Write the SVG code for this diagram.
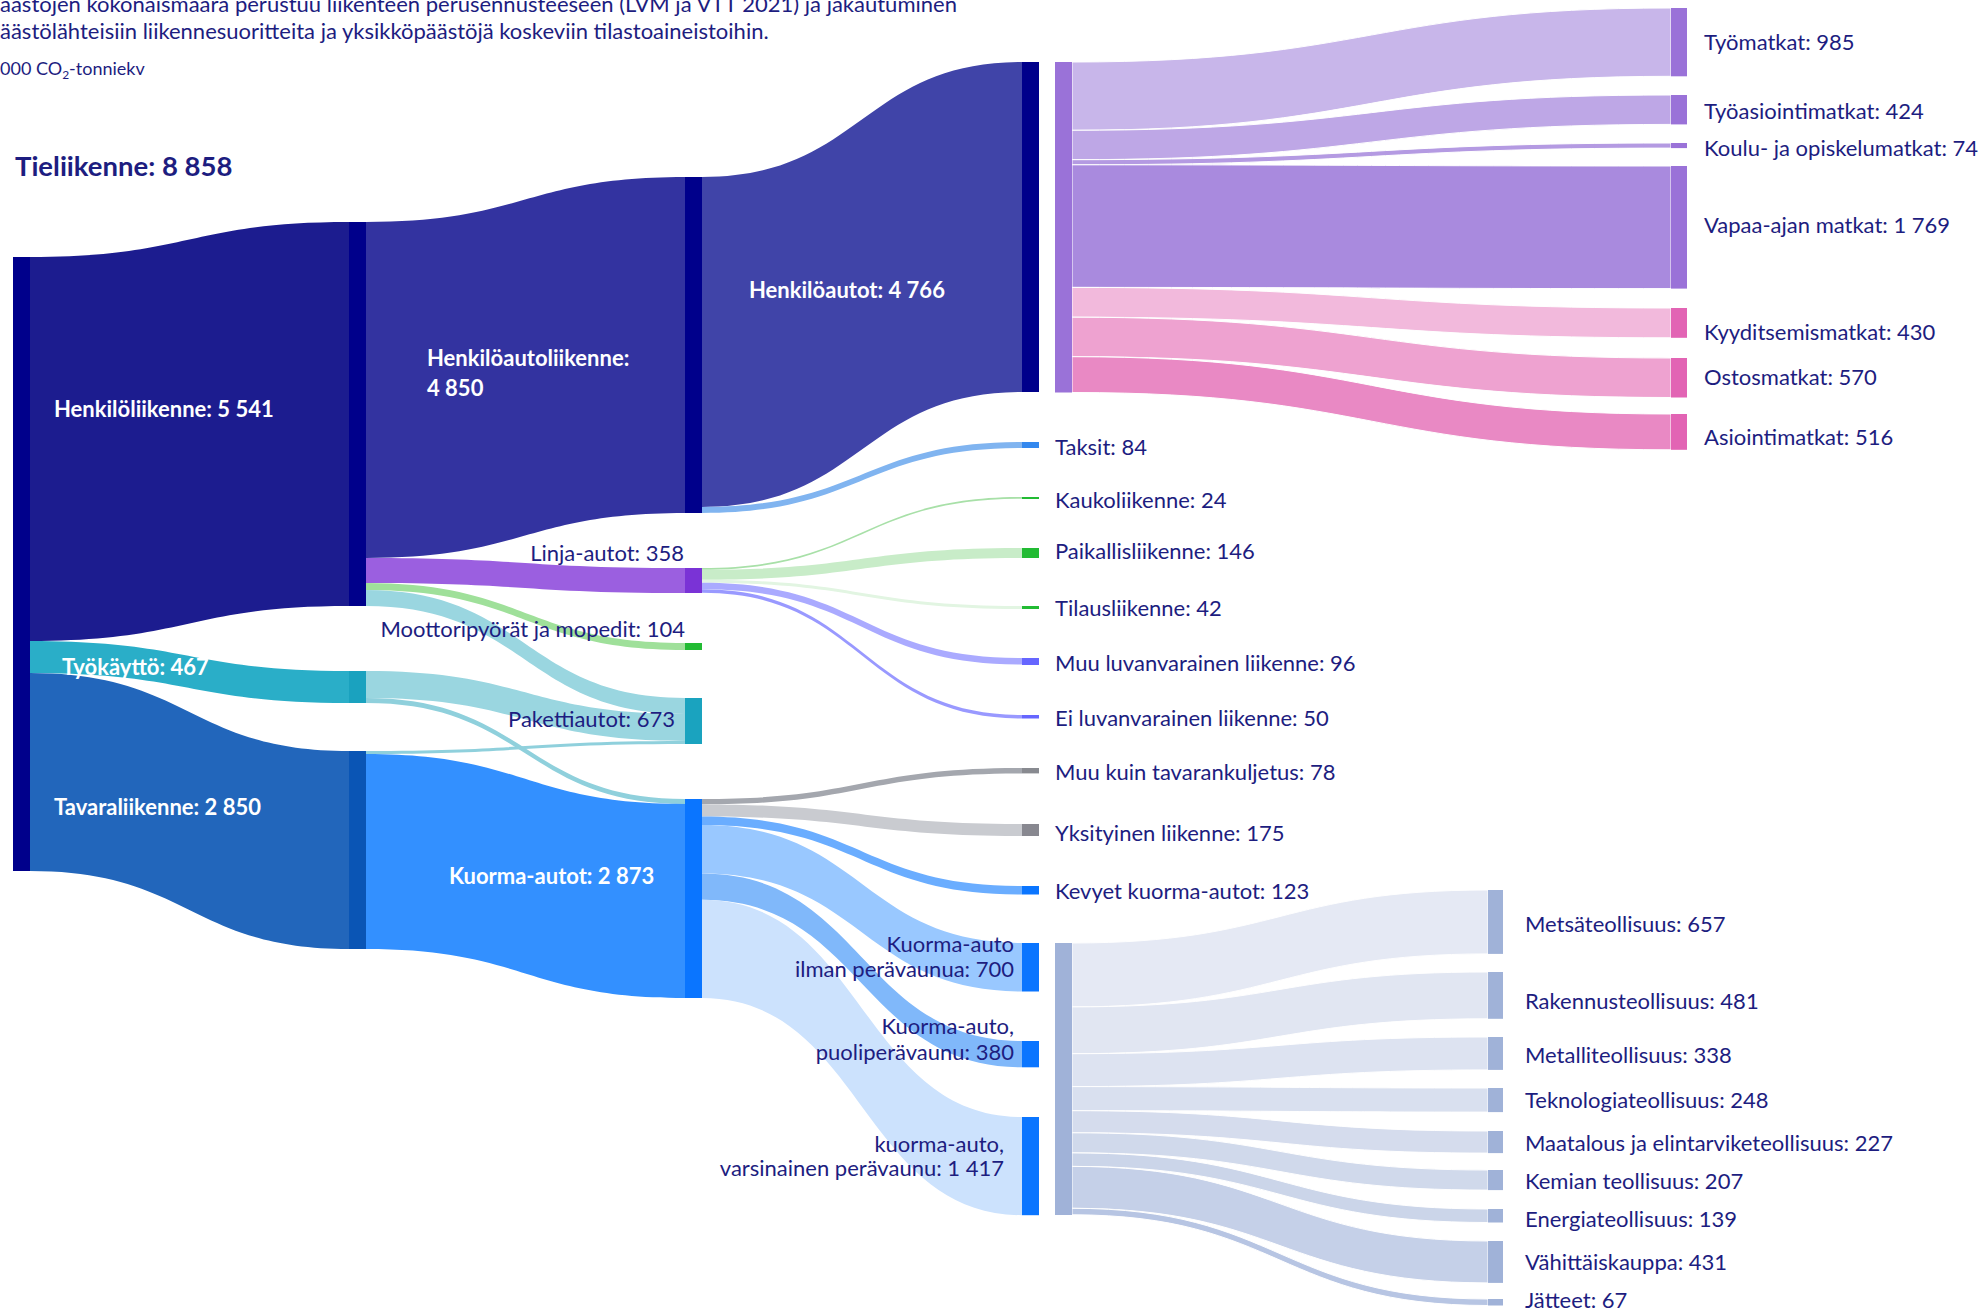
<svg xmlns="http://www.w3.org/2000/svg" width="1985" height="1311" viewBox="0 0 1985 1311">
<style>
text{font-family:Lato,"Open Sans","Liberation Sans",sans-serif;dominant-baseline:central}
.t{font-size:22px;fill:#1d1d80}
.w{font-size:22px;fill:#fff;font-weight:bold}
.e{text-anchor:end}
.ti{font-size:22px;fill:#1d1d80;dominant-baseline:auto}
.sep{stroke:#fff;stroke-width:1}
</style>
<rect width="1985" height="1311" fill="#fff"/>
<g id="title">
<text class="ti" x="0" y="12">äästöjen kokonaismäärä perustuu liikenteen perusennusteeseen (LVM ja VTT 2021) ja jakautuminen</text>
<text class="ti" x="0" y="39">äästölähteisiin liikennesuoritteita ja yksikköpäästöjä koskeviin tilastoaineistoihin.</text>
<text class="ti" x="0" y="75" style="font-size:18px">000 CO<tspan font-size="12" dy="4">2</tspan><tspan dy="-4">-tonniekv</tspan></text>
</g>
<g id="links">
<path fill="#1c1c8f" d="M30 257C189.5 257 189.5 222 349 222L349 606C189.5 606 189.5 641 30 641Z"/>
<path fill="#2aaec8" d="M30 641C189.5 641 189.5 671 349 671L349 703C189.5 703 189.5 673 30 673Z"/>
<path fill="#2266bb" d="M30 673C189.5 673 189.5 751 349 751L349 949C189.5 949 189.5 871 30 871Z"/>
<path fill="#3333a0" d="M366 222C525.5 222 525.5 177 685 177L685 513C525.5 513 525.5 558 366 558Z"/>
<path fill="#9b5fe0" d="M366 558C525.5 558 525.5 568 685 568L685 593C525.5 593 525.5 583 366 583Z"/>
<path fill="#9fe09a" d="M366 583C525.5 583 525.5 643 685 643L685 650C525.5 650 525.5 590 366 590Z"/>
<path fill="#9ad6e0" d="M366 590C525.5 590 525.5 698 685 698L685 714C525.5 714 525.5 606 366 606Z"/>
<path fill="#9ad6e0" d="M366 671C525.5 671 525.5 714 685 714L685 741C525.5 741 525.5 698 366 698Z"/>
<path fill="#8fd0dc" d="M366 698C525.5 698 525.5 799 685 799L685 804C525.5 804 525.5 703 366 703Z"/>
<path fill="#8fd0dc" d="M366 751C525.5 751 525.5 741 685 741L685 744C525.5 744 525.5 754 366 754Z"/>
<path fill="#3390ff" d="M366 754C525.5 754 525.5 804 685 804L685 998C525.5 998 525.5 949 366 949Z"/>
<path fill="#4044a8" d="M702 177C862 177 862 62 1022 62L1022 392C862 392 862 507 702 507Z"/>
<path fill="#80b4f0" d="M702 507C862 507 862 442 1022 442L1022 448C862 448 862 513 702 513Z"/>
<path fill="#a8e0a8" d="M702 568C862 568 862 497 1022 497L1022 498.7C862 498.7 862 569.7 702 569.7Z"/>
<path fill="#c8ecc8" d="M702 569.7C862 569.7 862 548 1022 548L1022 558.1C862 558.1 862 579.8 702 579.8Z"/>
<path fill="#e2f5e2" d="M702 579.8C862 579.8 862 606 1022 606L1022 608.9C862 608.9 862 582.7 702 582.7Z"/>
<path fill="#aaaaff" d="M702 582.7C862 582.7 862 658 1022 658L1022 664.6C862 664.6 862 589.3 702 589.3Z"/>
<path fill="#9999ff" d="M702 589.3C862 589.3 862 715 1022 715L1022 718.5C862 718.5 862 592.8 702 592.8Z"/>
<path fill="#a4a7ae" d="M702 799C862 799 862 768 1022 768L1022 773.4C862 773.4 862 804.4 702 804.4Z"/>
<path fill="#c9cbd0" d="M702 804.4C862 804.4 862 824 1022 824L1022 836.1C862 836.1 862 816.5 702 816.5Z"/>
<path fill="#6aadff" d="M702 816.5C862 816.5 862 886 1022 886L1022 894.5C862 894.5 862 825 702 825Z"/>
<path fill="#99c8ff" d="M702 825C862 825 862 943 1022 943L1022 991.5C862 991.5 862 873.5 702 873.5Z"/>
<path fill="#80b8fa" d="M702 873.5C862 873.5 862 1041 1022 1041L1022 1067.3C862 1067.3 862 899.8 702 899.8Z"/>
<path fill="#cce2fd" d="M702 899.8C862 899.8 862 1117 1022 1117L1022 1215.2C862 1215.2 862 998 702 998Z"/>
<path class="sep" fill="#c8b6ea" d="M1072 62C1371.5 62 1371.5 8 1671 8L1671 76.3C1371.5 76.3 1371.5 130.3 1072 130.3Z"/>
<path class="sep" fill="#bea7e6" d="M1072 130.3C1371.5 130.3 1371.5 95 1671 95L1671 124.4C1371.5 124.4 1371.5 159.7 1072 159.7Z"/>
<path class="sep" fill="#b49ae2" d="M1072 159.7C1371.5 159.7 1371.5 143 1671 143L1671 148.1C1371.5 148.1 1371.5 164.8 1072 164.8Z"/>
<path class="sep" fill="#a98ade" d="M1072 164.8C1371.5 164.8 1371.5 166 1671 166L1671 288.6C1371.5 288.6 1371.5 287.4 1072 287.4Z"/>
<path class="sep" fill="#f2b9dc" d="M1072 287.4C1371.5 287.4 1371.5 308 1671 308L1671 337.8C1371.5 337.8 1371.5 317.2 1072 317.2Z"/>
<path class="sep" fill="#eea2d0" d="M1072 317.2C1371.5 317.2 1371.5 358 1671 358L1671 397.5C1371.5 397.5 1371.5 356.7 1072 356.7Z"/>
<path class="sep" fill="#e989c4" d="M1072 356.7C1371.5 356.7 1371.5 414 1671 414L1671 449.8C1371.5 449.8 1371.5 392.5 1072 392.5Z"/>
<path class="sep" fill="#e5e9f4" d="M1072 943C1280 943 1280 890 1488 890L1488 953.9C1280 953.9 1280 1006.9 1072 1006.9Z"/>
<path class="sep" fill="#e1e6f2" d="M1072 1006.9C1280 1006.9 1280 972 1488 972L1488 1018.8C1280 1018.8 1280 1053.7 1072 1053.7Z"/>
<path class="sep" fill="#dde3f1" d="M1072 1053.7C1280 1053.7 1280 1037 1488 1037L1488 1069.9C1280 1069.9 1280 1086.6 1072 1086.6Z"/>
<path class="sep" fill="#d9e0ef" d="M1072 1086.6C1280 1086.6 1280 1088 1488 1088L1488 1112.1C1280 1112.1 1280 1110.7 1072 1110.7Z"/>
<path class="sep" fill="#d5dced" d="M1072 1110.7C1280 1110.7 1280 1131 1488 1131L1488 1153.1C1280 1153.1 1280 1132.8 1072 1132.8Z"/>
<path class="sep" fill="#d0d9eb" d="M1072 1132.8C1280 1132.8 1280 1170 1488 1170L1488 1190.1C1280 1190.1 1280 1152.9 1072 1152.9Z"/>
<path class="sep" fill="#cbd5e9" d="M1072 1152.9C1280 1152.9 1280 1209 1488 1209L1488 1222.5C1280 1222.5 1280 1166.4 1072 1166.4Z"/>
<path class="sep" fill="#c5d0e8" d="M1072 1166.4C1280 1166.4 1280 1241 1488 1241L1488 1282.9C1280 1282.9 1280 1208.3 1072 1208.3Z"/>
<path class="sep" fill="#b7c5e3" d="M1072 1208.3C1280 1208.3 1280 1299 1488 1299L1488 1305.5C1280 1305.5 1280 1214.8 1072 1214.8Z"/>
</g>
<g id="n-tieliikenne"><rect x="13" y="257" width="17" height="614" fill="#00008b"/><text x="15" y="165" style="font-size:27.5px;font-weight:bold;fill:#1d1d80">Tieliikenne: 8 858</text></g>
<g id="n-henkiloliikenne"><rect x="349" y="222" width="17" height="384" fill="#00008b"/><text class="w" x="54" y="408">Henkilöliikenne: 5 541</text></g>
<g id="n-tyokaytto"><rect x="349" y="671" width="17" height="32" fill="#1aa2bf"/><text class="w" x="62" y="666">Työkäyttö: 467</text></g>
<g id="n-tavaraliikenne"><rect x="349" y="751" width="17" height="198" fill="#0a55b5"/><text class="w" x="54" y="806">Tavaraliikenne: 2 850</text></g>
<g id="n-henkiloautoliikenne"><rect x="685" y="177" width="17" height="336" fill="#00008b"/><text class="w" x="427" y="357">Henkilöautoliikenne:</text><text class="w" x="427" y="387">4 850</text></g>
<g id="n-linja"><rect x="685" y="568" width="17" height="25" fill="#7a33d6"/><text class="t e" x="684" y="552">Linja-autot: 358</text></g>
<g id="n-moottori"><rect x="685" y="643" width="17" height="7" fill="#22bb33"/><text class="t e" x="685" y="628">Moottoripyörät ja mopedit: 104</text></g>
<g id="n-paketti"><rect x="685" y="698" width="17" height="46" fill="#1aa3bf"/><text class="t e" x="675" y="718">Pakettiautot: 673</text></g>
<g id="n-kuorma"><rect x="685" y="799" width="17" height="199" fill="#0a75ff"/><text class="w" x="449" y="875">Kuorma-autot: 2 873</text></g>
<g id="n-henkiloautot"><rect x="1022" y="62" width="17" height="330" fill="#00008b"/><text class="w" x="749" y="289">Henkilöautot: 4 766</text></g>
<g id="n-taksit"><rect x="1022" y="442" width="17" height="6" fill="#3388ee"/><text class="t" x="1055" y="446">Taksit: 84</text></g>
<g id="n-kauko"><rect x="1022" y="497" width="17" height="2" fill="#22bb33"/><text class="t" x="1055" y="499">Kaukoliikenne: 24</text></g>
<g id="n-paikallis"><rect x="1022" y="548" width="17" height="10" fill="#22bb33"/><text class="t" x="1055" y="550">Paikallisliikenne: 146</text></g>
<g id="n-tilaus"><rect x="1022" y="606" width="17" height="3" fill="#22bb33"/><text class="t" x="1055" y="607">Tilausliikenne: 42</text></g>
<g id="n-muuluvan"><rect x="1022" y="658" width="17" height="7" fill="#6666ff"/><text class="t" x="1055" y="662">Muu luvanvarainen liikenne: 96</text></g>
<g id="n-eiluvan"><rect x="1022" y="715" width="17" height="3.5" fill="#6666ff"/><text class="t" x="1055" y="717">Ei luvanvarainen liikenne: 50</text></g>
<g id="n-muukuin"><rect x="1022" y="768" width="17" height="5.4" fill="#888a90"/><text class="t" x="1055" y="771">Muu kuin tavarankuljetus: 78</text></g>
<g id="n-yksityinen"><rect x="1022" y="824" width="17" height="12" fill="#888890"/><text class="t" x="1055" y="832">Yksityinen liikenne: 175</text></g>
<g id="n-kevyet"><rect x="1022" y="886" width="17" height="8.5" fill="#0a75ff"/><text class="t" x="1055" y="890">Kevyet kuorma-autot: 123</text></g>
<g id="n-ilman"><rect x="1022" y="943" width="17" height="48.5" fill="#0a75ff"/><text class="t e" x="1014" y="943">Kuorma-auto</text><text class="t e" x="1014" y="968">ilman perävaunua: 700</text></g>
<g id="n-puoli"><rect x="1022" y="1041" width="17" height="26.3" fill="#0a75ff"/><text class="t e" x="1014" y="1025">Kuorma-auto,</text><text class="t e" x="1014" y="1051">puoliperävaunu: 380</text></g>
<g id="n-varsinainen"><rect x="1022" y="1117" width="17" height="98.2" fill="#0a75ff"/><text class="t e" x="1004" y="1143">kuorma-auto,</text><text class="t e" x="1004" y="1167">varsinainen perävaunu: 1 417</text></g>
<g id="n-matkat"><rect x="1055" y="62" width="17" height="330.5" fill="#9a72d8"/></g>
<g id="n-toimialat"><rect x="1055" y="943" width="17" height="272" fill="#a0b2d8"/></g>
<g id="n-tyomatkat"><rect x="1671" y="8" width="16" height="68.3" fill="#9a72d8"/><text class="t" x="1704" y="41">Työmatkat: 985</text></g>
<g id="n-tyoasiointi"><rect x="1671" y="95" width="16" height="29.4" fill="#9a72d8"/><text class="t" x="1704" y="110">Työasiointimatkat: 424</text></g>
<g id="n-koulu"><rect x="1671" y="143" width="16" height="5.1" fill="#9a72d8"/><text class="t" x="1704" y="147">Koulu- ja opiskelumatkat: 74</text></g>
<g id="n-vapaa"><rect x="1671" y="166" width="16" height="122.6" fill="#9a72d8"/><text class="t" x="1704" y="224">Vapaa-ajan matkat: 1 769</text></g>
<g id="n-kyyd"><rect x="1671" y="308" width="16" height="29.8" fill="#e264b4"/><text class="t" x="1704" y="331">Kyyditsemismatkat: 430</text></g>
<g id="n-ostos"><rect x="1671" y="358" width="16" height="39.5" fill="#e264b4"/><text class="t" x="1704" y="376">Ostosmatkat: 570</text></g>
<g id="n-asiointi"><rect x="1671" y="414" width="16" height="35.8" fill="#e264b4"/><text class="t" x="1704" y="436">Asiointimatkat: 516</text></g>
<g id="n-metsa"><rect x="1488" y="890" width="15" height="63.9" fill="#a0b2d8"/><text class="t" x="1525" y="923">Metsäteollisuus: 657</text></g>
<g id="n-rakennus"><rect x="1488" y="972" width="15" height="46.8" fill="#a0b2d8"/><text class="t" x="1525" y="1000">Rakennusteollisuus: 481</text></g>
<g id="n-metalli"><rect x="1488" y="1037" width="15" height="32.9" fill="#a0b2d8"/><text class="t" x="1525" y="1054">Metalliteollisuus: 338</text></g>
<g id="n-tekno"><rect x="1488" y="1088" width="15" height="24.1" fill="#a0b2d8"/><text class="t" x="1525" y="1099">Teknologiateollisuus: 248</text></g>
<g id="n-maatalous"><rect x="1488" y="1131" width="15" height="22.1" fill="#a0b2d8"/><text class="t" x="1525" y="1142">Maatalous ja elintarviketeollisuus: 227</text></g>
<g id="n-kemia"><rect x="1488" y="1170" width="15" height="20.1" fill="#a0b2d8"/><text class="t" x="1525" y="1180">Kemian teollisuus: 207</text></g>
<g id="n-energia"><rect x="1488" y="1209" width="15" height="13.5" fill="#a0b2d8"/><text class="t" x="1525" y="1218">Energiateollisuus: 139</text></g>
<g id="n-vahittais"><rect x="1488" y="1241" width="15" height="41.9" fill="#a0b2d8"/><text class="t" x="1525" y="1261">Vähittäiskauppa: 431</text></g>
<g id="n-jatteet"><rect x="1488" y="1299" width="15" height="6.5" fill="#a0b2d8"/><text class="t" x="1525" y="1299">Jätteet: 67</text></g>
</svg>
